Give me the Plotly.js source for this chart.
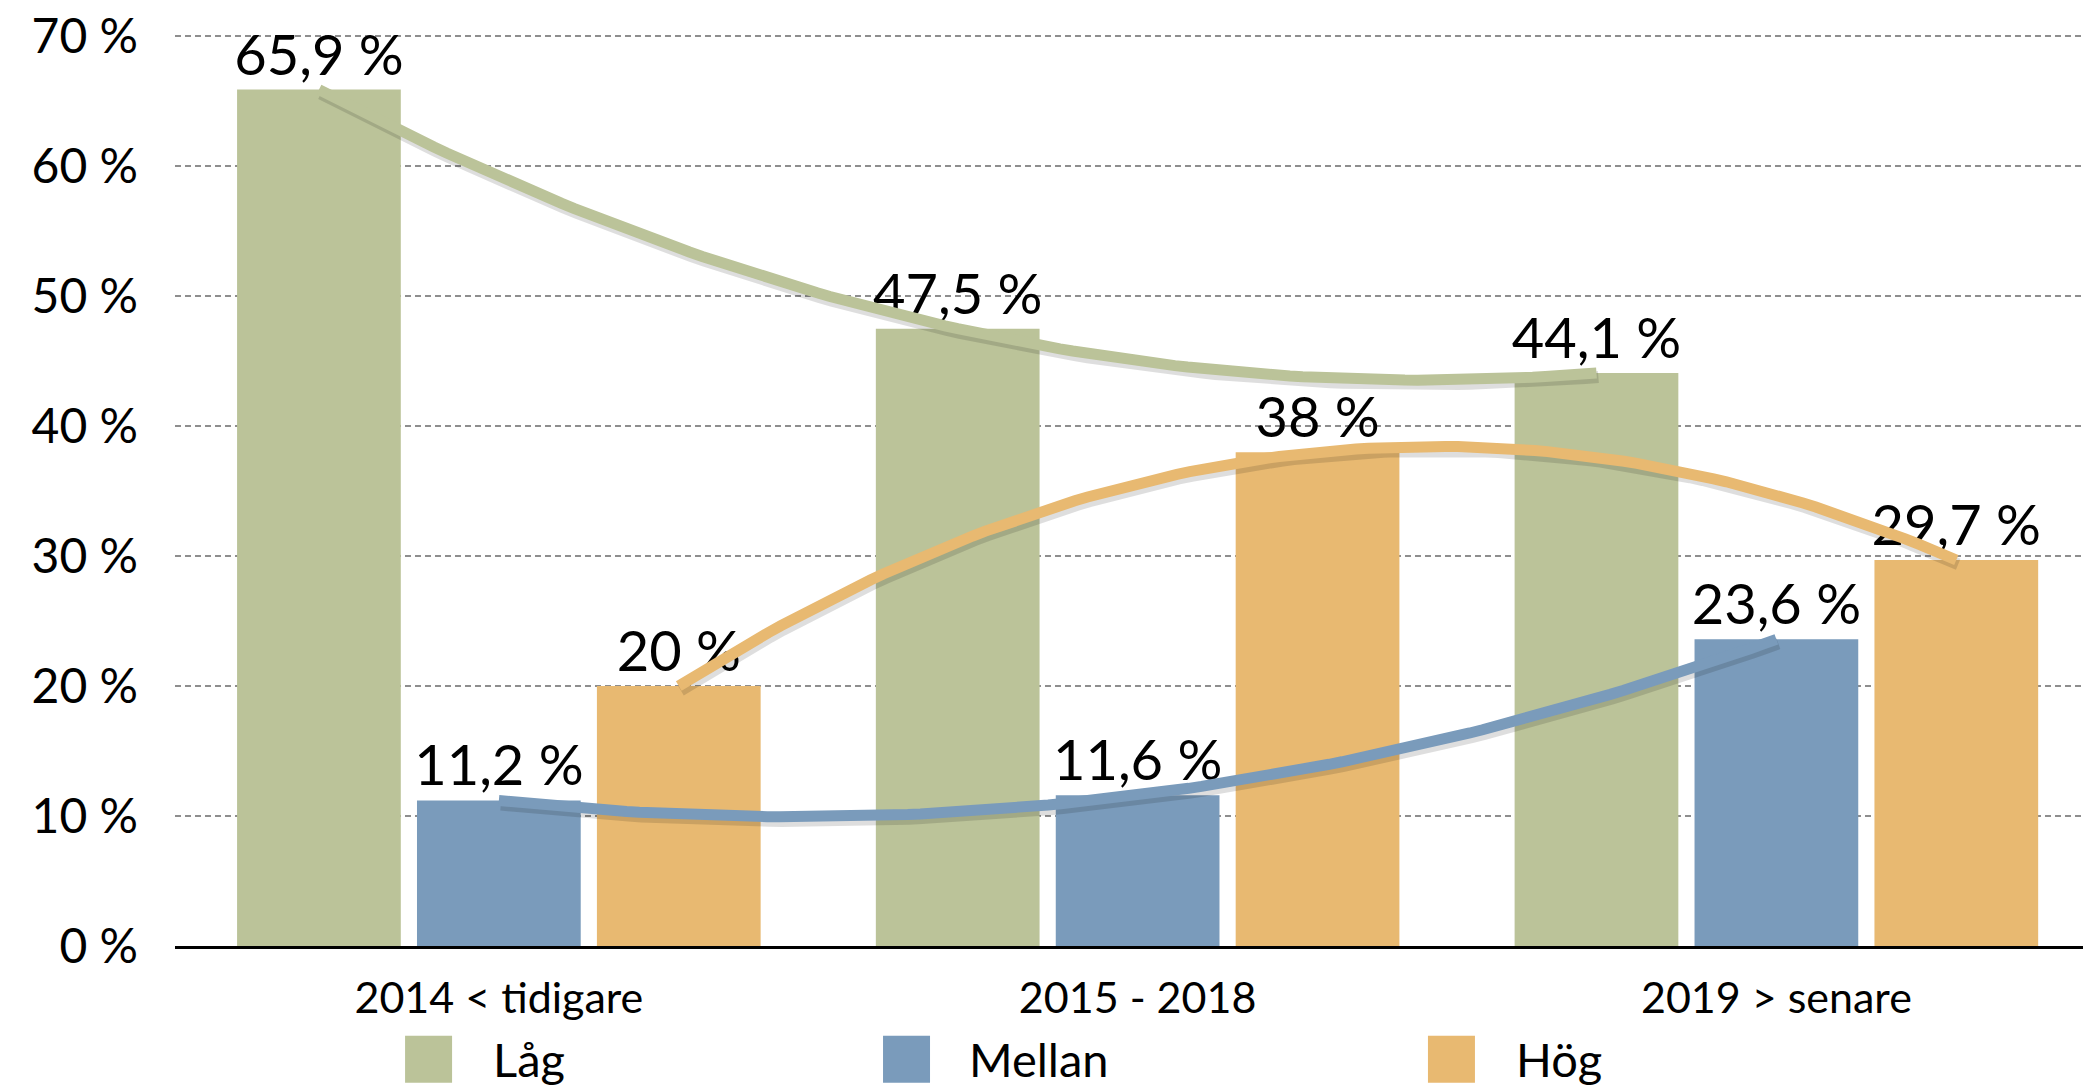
<!DOCTYPE html>
<html>
<head>
<meta charset="utf-8">
<script src="https://cdn.plot.ly/plotly-3.0.1.min.js"></script>
<style>html,body{margin:0;padding:0;background:#fff}#chart{width:2083px;height:1088px}</style>
</head>
<body>
<div id="chart"></div>
<script>
// ---- data ----
const categories = ['2014 < tidigare', '2015 - 2018', '2019 > senare'];
const seriesNames = ['Låg', 'Mellan', 'Hög'];
const lag = [65.9, 47.5, 44.1];
const mellan = [11.2, 11.6, 23.6];
const hog = [20, 38, 29.7];

// ---- style ----
const colors = ['#BBC399', '#7A9BBB', '#E8B971'];
const FONT = 'Lato, "Open Sans", sans-serif';
const BARGAP = 0.155, BARGROUPGAP = 0.09;
const series = [lag, mellan, hog];
const xIdx = categories.map((c, i) => i);

function fmt(v) { return String(v).replace('.', ',') + ' %'; }

// least-squares polynomial fit (order 2), like a spreadsheet trendline
function polyfit2(ys) {
  const ts = ys.map((y, i) => i + 1);
  const S = k => ts.reduce((a, t) => a + Math.pow(t, k), 0);
  const T = k => ts.reduce((a, t, i) => a + Math.pow(t, k) * ys[i], 0);
  const A = [[S(0), S(1), S(2)], [S(1), S(2), S(3)], [S(2), S(3), S(4)]];
  const B = [T(0), T(1), T(2)];
  for (let i = 0; i < 3; i++) {
    let p = i;
    for (let r = i + 1; r < 3; r++) if (Math.abs(A[r][i]) > Math.abs(A[p][i])) p = r;
    [A[i], A[p]] = [A[p], A[i]]; [B[i], B[p]] = [B[p], B[i]];
    for (let r = i + 1; r < 3; r++) {
      const f = A[r][i] / A[i][i];
      for (let c = i; c < 3; c++) A[r][c] -= f * A[i][c];
      B[r] -= f * B[i];
    }
  }
  const c = [0, 0, 0];
  for (let i = 2; i >= 0; i--) {
    let s = B[i];
    for (let k = i + 1; k < 3; k++) s -= A[i][k] * c[k];
    c[i] = s / A[i][i];
  }
  return t => c[0] + c[1] * t + c[2] * t * t;
}

const slot = (1 - BARGAP) / series.length;
const traces = [];
series.forEach((vals, k) => {
  traces.push({
    type: 'bar', name: seriesNames[k], x: xIdx, y: vals,
    marker: { color: colors[k], line: { width: 0 } },
    text: vals.map(fmt), textposition: 'outside', textangle: 0,
    textfont: { family: FONT, size: 56, color: '#000' },
    cliponaxis: false, constraintext: 'none', hoverinfo: 'x+y', showlegend: false
  });
});

// trendlines (soft shadow + line)
const shadowTraces = [], lineTraces = [];
series.forEach((vals, k) => {
  const f = polyfit2(vals);
  const off = (k - (series.length - 1) / 2) * slot;
  const n = 100, xs = [], ys = [];
  for (let i = 0; i <= n; i++) {
    const t = 1 + 2 * i / n;
    xs.push(t - 1 + off); ys.push(f(t));
  }
  shadowTraces.push({
    type: 'scatter', mode: 'lines', x: xs.map(v => v + 0.003), y: ys.map(v => v - 0.32),
    line: { color: 'rgba(0,0,0,0.13)', width: 12 }, hoverinfo: 'skip', showlegend: false
  });
  lineTraces.push({
    type: 'scatter', mode: 'lines', x: xs, y: ys, name: seriesNames[k] + ' trend',
    line: { color: colors[k], width: 11 }, hoverinfo: 'skip', showlegend: false
  });
});

// legend drawn as shapes + text
const legendBoxX = [0.1329, 0.3834, 0.6690];
const legendTextX = [0.1656, 0.4151, 0.7018];
const legendY = -0.1242;
const shapes = seriesNames.map((s, k) => ({
  type: 'rect', xref: 'paper', yref: 'paper', xsizemode: 'pixel', ysizemode: 'pixel',
  xanchor: legendBoxX[k], yanchor: legendY, x0: -23.5, x1: 23.5, y0: -23.5, y1: 23.5,
  fillcolor: colors[k], line: { width: 0 }
}));
const annotations = seriesNames.map((s, k) => ({
  xref: 'paper', yref: 'paper', x: legendTextX[k], y: legendY, xanchor: 'left', yanchor: 'middle',
  text: s, showarrow: false, font: { family: FONT, size: 47, color: '#000' }
}));

const layout = {
  width: 2083, height: 1088,
  margin: { l: 175, r: 0, t: 35, b: 142, pad: 0 },
  paper_bgcolor: '#fff', plot_bgcolor: '#fff',
  font: { family: FONT, color: '#000' },
  barmode: 'group', bargap: BARGAP, bargroupgap: BARGROUPGAP,
  showlegend: false,
  xaxis: {
    range: [-0.507, 2.48], tickvals: xIdx, ticktext: categories,
    showgrid: false, zeroline: false, showline: true, linecolor: '#000', linewidth: 3,
    ticks: '', tickfont: { family: FONT, size: 43, color: '#000' }, ticklabelstandoff: 12
  },
  yaxis: {
    range: [0, 70.1], tick0: 0, dtick: 10, ticksuffix: ' %',
    showgrid: true, gridcolor: '#8e8e8e', gridwidth: 2, griddash: '6px,4px',
    zeroline: false, showline: false, ticks: '',
    tickfont: { family: FONT, size: 48, color: '#000' }, ticklabelstandoff: 36
  },
  shapes: shapes,
  annotations: annotations
};

Plotly.newPlot('chart', traces.concat(shadowTraces, lineTraces), layout, { staticPlot: true, displayModeBar: false });
</script>
</body>
</html>
